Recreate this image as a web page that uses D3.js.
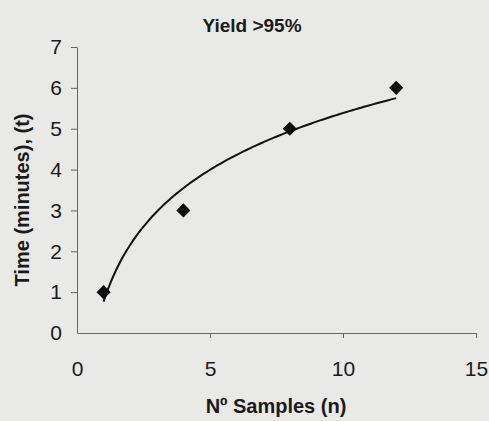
<!DOCTYPE html>
<html>
<head>
<meta charset="utf-8">
<script src="https://cdn.jsdelivr.net/npm/d3@7"></script>
<style>
  body { margin: 0; background: #e9e9e7; }
  .chart text { font-family: "Liberation Sans", Arial, sans-serif; fill: #1a1a1a; }
  .axis path, .axis line { stroke: #666; stroke-width: 1; }
  .axis text { font-size: 21px; }
</style>
</head>
<body>
<div class="chart"></div>
<script>
// DATA ------------------------------
const samples = [1, 4, 8, 12];
const times = [1, 3, 5, 6];
const xTicks = [0, 5, 10, 15];
const yTicks = [0, 1, 2, 3, 4, 5, 6, 7];

const margin = { top: 47, left: 77, right: 13, bottom: 88 };
const totalWidth = 489;
const totalHeight = 421;
const width = totalWidth - margin.left - margin.right,
  height = totalHeight - margin.top - margin.bottom;

const root = d3
  .select(".chart")
  .append("svg")
  .attr("width", totalWidth)
  .attr("height", totalHeight);

root.append("rect").attr("width", totalWidth).attr("height", totalHeight).attr("fill", "#e9e9e7");

const svg = root.append("g").attr("transform", `translate(${margin.left},${margin.top})`);

const xScale = d3.scaleLinear().domain([0, 15]).range([0, 399]);
const yScale = d3.scaleLinear().domain([0, 7]).range([height, 0]);

// axes
svg
  .append("g")
  .attr("class", "axis x-axis")
  .attr("transform", `translate(0, ${height})`)
  .call(d3.axisBottom(xScale).tickValues(xTicks).tickFormat(d3.format("d")).tickSizeInner(5).tickSizeOuter(0).tickPadding(23))
  .call((g) => g.selectAll(".tick").filter((d) => d === 0).select("line").remove());

svg
  .append("g")
  .attr("class", "axis y-axis")
  .call(d3.axisLeft(yScale).tickValues(yTicks).tickFormat(d3.format("d")).tickSizeInner(6).tickSizeOuter(0).tickPadding(9))
  .call((g) => g.selectAll(".tick").filter((d) => d === 0).select("line").remove());

// logarithmic trendline (least squares on ln x)
const lx = samples.map(Math.log);
const mx = d3.mean(lx), my = d3.mean(times);
const a = d3.sum(lx, (v, i) => (v - mx) * (times[i] - my)) / d3.sum(lx, (v) => (v - mx) ** 2);
const b = my - a * mx;
const curve = d3.range(0, 101).map((i) => {
  const x = samples[0] + (i / 100) * (samples[samples.length - 1] - samples[0]);
  return [x, a * Math.log(x) + b];
});

svg
  .append("path")
  .datum(curve)
  .attr("fill", "none")
  .attr("stroke", "#111")
  .attr("stroke-width", 2)
  .attr("d", d3.line().x((d) => xScale(d[0])).y((d) => yScale(d[1])));

// markers
svg
  .selectAll(".pt")
  .data(samples)
  .enter()
  .append("path")
  .attr("class", "pt")
  .attr("transform", (d, i) => `translate(${xScale(d)},${yScale(times[i])}) rotate(45)`)
  .attr("d", "M-5,-5H5V5H-5Z")
  .attr("fill", "#0d0d0d");

// titles
root
  .append("text")
  .attr("x", 252)
  .attr("y", 32)
  .attr("text-anchor", "middle")
  .style("font-size", "19px")
  .style("font-weight", "bold")
  .text("Yield >95%");

root
  .append("text")
  .attr("transform", "translate(29,200) rotate(-90)")
  .attr("text-anchor", "middle")
  .style("font-size", "20px")
  .style("font-weight", "bold")
  .text("Time (minutes), (t)");

root
  .append("text")
  .attr("x", 276)
  .attr("y", 413)
  .attr("text-anchor", "middle")
  .style("font-size", "20px")
  .style("font-weight", "bold")
  .text("Nº Samples (n)");
</script>
</body>
</html>
